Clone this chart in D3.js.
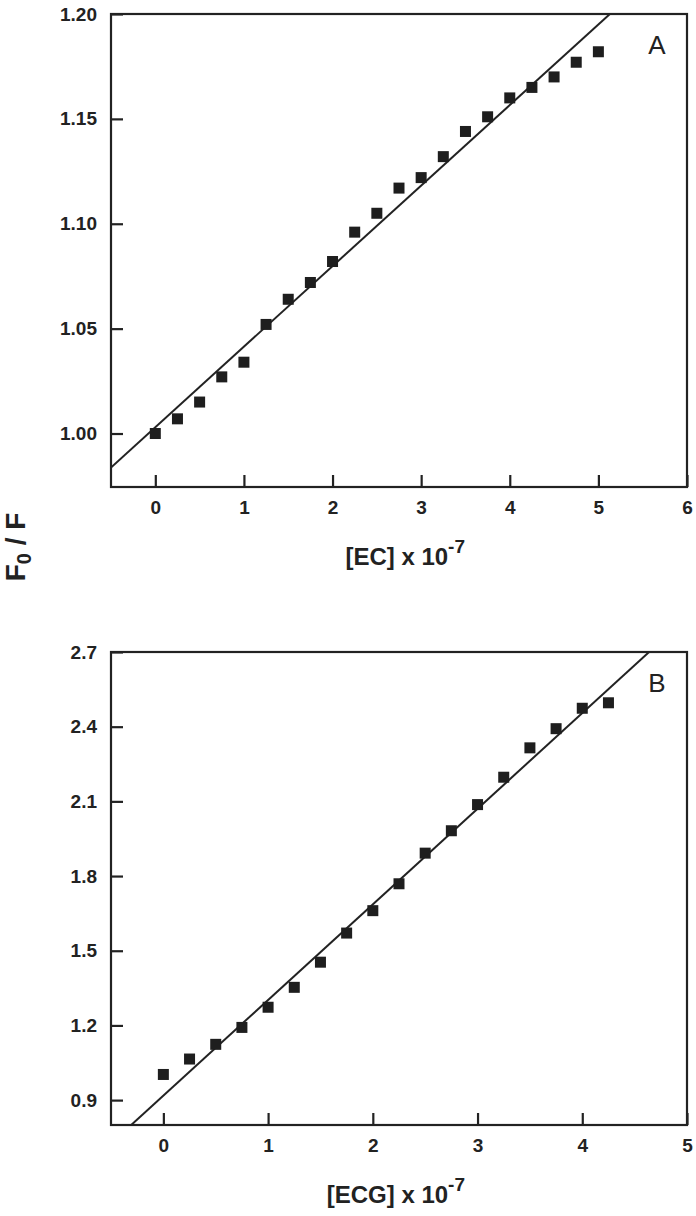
<!DOCTYPE html>
<html>
<head>
<meta charset="utf-8">
<script src="https://cdn.jsdelivr.net/npm/d3@7"></script>
<style>
  body { margin: 0; background: #fff; }
  svg text { font-family: "Liberation Sans", Arial, sans-serif; fill: #222; }
  .tick text { font-weight: bold; font-size: 19px; }
  .tick line { stroke: #222; stroke-width: 2.2px; }
  .frame { fill: none; stroke: #222; stroke-width: 2.2px; }
  .fit { fill: none; stroke: #222; stroke-width: 2px; }
  .dot { fill: #1e1e1e; }
</style>
</head>
<body>
<div id="chart"></div>
<script>
// panel A: F0/F vs [EC]
var ecConc  = [0, 0.25, 0.5, 0.75, 1, 1.25, 1.5, 1.75, 2, 2.25, 2.5, 2.75, 3, 3.25, 3.5, 3.75, 4, 4.25, 4.5, 4.75, 5];
var ecRatio = [1.000, 1.007, 1.015, 1.027, 1.034, 1.052, 1.064, 1.072, 1.082, 1.096, 1.105, 1.117, 1.122, 1.132, 1.144, 1.151, 1.160, 1.165, 1.170, 1.177, 1.182];
var ecFit   = [1.003, 0.0384]; // intercept, slope
var ecXTicks = [0, 1, 2, 3, 4, 5, 6];
var ecYTicks = [1.00, 1.05, 1.10, 1.15, 1.20];

// panel B: F0/F vs [ECG]
var ecgConc  = [0, 0.25, 0.5, 0.75, 1, 1.25, 1.5, 1.75, 2, 2.25, 2.5, 2.75, 3, 3.25, 3.5, 3.75, 4, 4.25];
var ecgRatio = [1.003, 1.065, 1.124, 1.192, 1.273, 1.353, 1.454, 1.571, 1.661, 1.769, 1.892, 1.982, 2.087, 2.197, 2.315, 2.392, 2.474, 2.496];
var ecgFit   = [0.918, 0.3842];
var ecgXTicks = [0, 1, 2, 3, 4, 5];
var ecgYTicks = [0.9, 1.2, 1.5, 1.8, 2.1, 2.4, 2.7];

var W = 696, H = 1216;
var svg = d3.select("#chart").append("svg")
    .attr("width", W)
    .attr("height", H);

function drawPanel(opt) {
  var width = 576, height = 473;
  var g = svg.append("g")
      .attr("transform", "translate(" + opt.left + "," + opt.top + ")");

  var x = d3.scaleLinear().domain(opt.xDomain).range([0, width]);
  var y = d3.scaleLinear().domain(opt.yDomain).range([height, 0]);

  g.append("defs").append("clipPath")
      .attr("id", opt.id + "clip")
    .append("rect")
      .attr("width", width)
      .attr("height", height);

  // axes with inward ticks
  var xa = g.append("g")
      .attr("transform", "translate(0," + height + ")")
      .call(d3.axisBottom(x).tickValues(opt.xTicks).tickFormat(d3.format("d"))
        .tickSizeInner(-12).tickSizeOuter(0).tickPadding(14));
  var ya = g.append("g")
      .call(d3.axisLeft(y).tickValues(opt.yTicks).tickFormat(d3.format(opt.yFmt))
        .tickSizeInner(-12).tickSizeOuter(0).tickPadding(14));
  xa.select(".domain").remove();
  ya.select(".domain").remove();

  // fit line
  var fitLine = d3.line()
      .x(function(d) { return x(d); })
      .y(function(d) { return y(opt.fit[0] + opt.fit[1] * d); });
  g.append("g")
      .attr("clip-path", "url(#" + opt.id + "clip)")
    .append("path")
      .datum(opt.xDomain)
      .attr("class", "fit")
      .attr("d", fitLine);

  // square markers
  var s = 11;
  g.selectAll(".dot")
      .data(opt.xs)
    .enter().append("rect")
      .attr("class", "dot")
      .attr("x", function(d) { return x(d) - s / 2; })
      .attr("y", function(d, i) { return y(opt.ys[i]) - s / 2; })
      .attr("width", s)
      .attr("height", s);

  g.append("rect")
      .attr("class", "frame")
      .attr("width", width)
      .attr("height", height);

  g.append("text")
      .attr("x", width - 30)
      .attr("y", 40)
      .attr("text-anchor", "middle")
      .style("font-size", "26px")
      .text(opt.letter);

  // x title with superscript
  var t = g.append("text")
      .attr("x", opt.titleX)
      .attr("y", height + 78)
      .attr("text-anchor", "end")
      .style("font-size", "24px")
      .style("font-weight", "bold");
  t.append("tspan").text(opt.title + " x 10");
  t.append("tspan").attr("dy", -12).style("font-size", "19px").text("-7");
}

drawPanel({ id: "a", left: 111, top: 14, xDomain: [-0.5, 6], yDomain: [0.9745, 1.20],
  xTicks: ecXTicks, yTicks: ecYTicks, yFmt: ".2f", xs: ecConc, ys: ecRatio, fit: ecFit,
  letter: "A", title: "[EC]", titleX: 354 });
drawPanel({ id: "b", left: 111, top: 652, xDomain: [-0.5, 5], yDomain: [0.8, 2.7],
  xTicks: ecgXTicks, yTicks: ecgYTicks, yFmt: ".1f", xs: ecgConc, ys: ecgRatio, fit: ecgFit,
  letter: "B", title: "[ECG]", titleX: 354 });

// shared y title
var yt = svg.append("text")
    .attr("transform", "translate(25,547) rotate(-90)")
    .attr("text-anchor", "middle")
    .style("font-size", "28px")
    .style("font-weight", "bold");
yt.append("tspan").text("F");
yt.append("tspan").attr("dy", 6).style("font-size", "20px").text("0");
yt.append("tspan").attr("dy", -6).text(" / F");
</script>
</body>
</html>
